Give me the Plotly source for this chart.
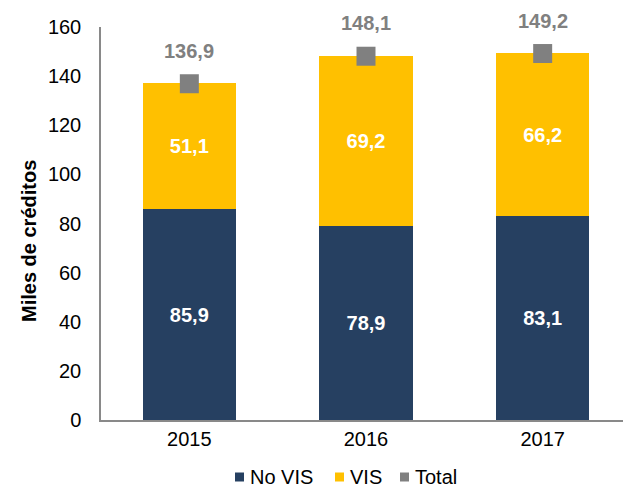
import plotly.graph_objects as go

years = ["2015", "2016", "2017"]
no_vis = [85.9, 78.9, 83.1]
vis = [51.1, 69.2, 66.2]
total = [136.9, 148.1, 149.2]
y_ticks = [0, 20, 40, 60, 80, 100, 120, 140, 160]
series_names = ["No VIS", "VIS", "Total"]

NAVY = "#264061"
YELLOW = "#FFC000"
GRAY = "#808080"
FONT = "Liberation Sans, Arial, sans-serif"

W, H = 623, 481
ML, MR, MT, MB = 93, 0, 19, 69
PW = W - ML - MR
PH = H - MT - MB


def fmt(v):
    return f"{v:.1f}".replace(".", ",")


xpos = list(range(len(years)))

fig = go.Figure()
fig.add_trace(go.Bar(
    x=xpos, y=no_vis, name=series_names[0], marker=dict(color=NAVY, line=dict(width=0)),
    text=[fmt(v) for v in no_vis],
    textposition="inside", insidetextanchor="middle",
    textfont=dict(color="white", size=20, family=FONT, weight="bold"),
    showlegend=False,
))
fig.add_trace(go.Bar(
    x=xpos, y=vis, name=series_names[1], marker=dict(color=YELLOW, line=dict(width=0)),
    text=[fmt(v) for v in vis],
    textposition="inside", insidetextanchor="middle",
    textfont=dict(color="white", size=20, family=FONT, weight="bold"),
    showlegend=False,
))
fig.add_trace(go.Scatter(
    x=xpos, y=total, name=series_names[2], mode="markers",
    marker=dict(symbol="square", size=19, color=GRAY),
    showlegend=False,
))
for xi, t in zip(xpos, total):
    fig.add_annotation(
        x=xi, y=t, text=fmt(t), showarrow=False,
        yshift=33, font=dict(color=GRAY, size=20, family=FONT, weight="bold"),
    )

# y-axis title
fig.add_annotation(
    xref="paper", yref="paper", x=(21 - ML) / PW, y=(MT + PH - 233) / PH,
    xanchor="center", yanchor="middle",
    text="<b>Miles de créditos</b>", textangle=-90, showarrow=False,
    font=dict(size=20, family=FONT, color="black"),
)

# manual legend (positions in figure pixels -> paper coordinates)
legend_items = [(series_names[0], NAVY, 227), (series_names[1], YELLOW, 327), (series_names[2], GRAY, 392)]
ly = 469  # legend vertical center in figure pixels
for name, col, px in legend_items:
    x0 = (px - ML) / PW
    x1 = (px + 9 - ML) / PW
    y0 = (MT + PH - (ly + 4.5)) / PH
    y1 = (MT + PH - (ly - 4.5)) / PH
    fig.add_shape(type="rect", xref="paper", yref="paper", x0=x0, x1=x1, y0=y0, y1=y1,
                  fillcolor=col, line=dict(width=0))
    fig.add_annotation(
        xref="paper", yref="paper", x=(px + 13 - ML) / PW, y=(MT + PH - ly) / PH,
        xanchor="left", yanchor="middle", text=name, showarrow=False,
        font=dict(size=20, family=FONT, color="black"),
    )

fig.update_layout(
    width=W, height=H,
    barmode="stack", bargap=0.47,
    paper_bgcolor="white", plot_bgcolor="white",
    margin=dict(l=ML, r=MR, t=MT, b=MB),
    font=dict(family=FONT, size=20, color="black"),
    showlegend=False,
    uniformtext=dict(minsize=8, mode="show"),
)
fig.update_xaxes(
    range=[-0.5, len(years) - 0.5],
    tickvals=xpos, ticktext=years,
    showline=True, linecolor="#898989", linewidth=1.5, ticks="",
    tickfont=dict(size=20), showgrid=False, zeroline=False,
)
fig.update_yaxes(
    range=[0, 160], tickvals=y_ticks, showline=True, linecolor="#898989",
    linewidth=1.5, ticks="", showgrid=False, zeroline=False,
    tickfont=dict(size=20), ticklabelstandoff=14,
)

fig.write_html("out.html")
